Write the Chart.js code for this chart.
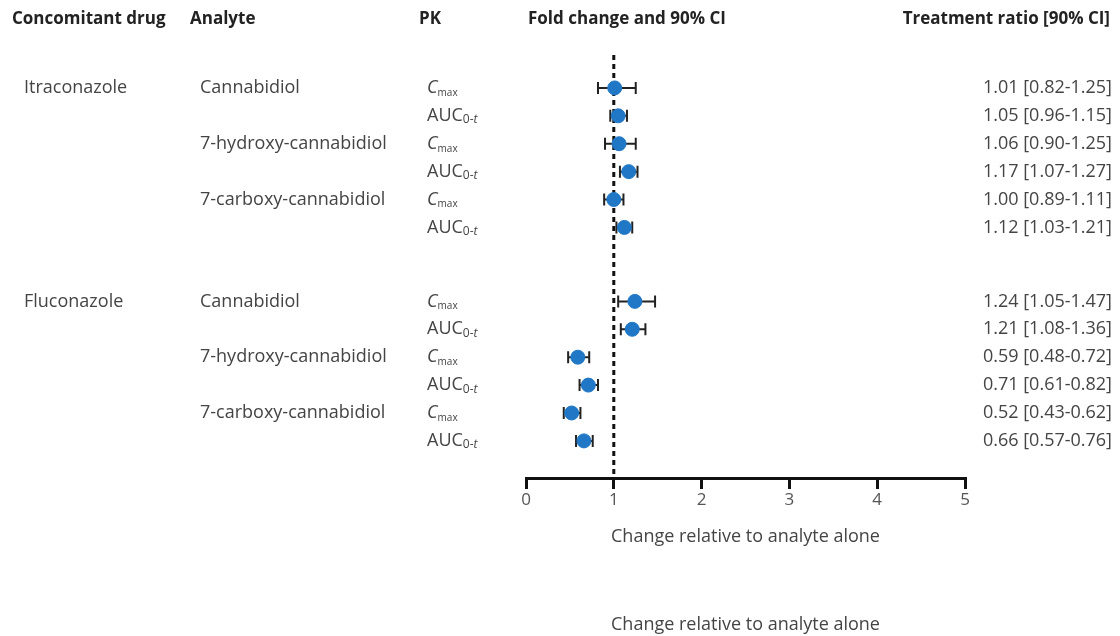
<!DOCTYPE html>
<html>
<head>
<meta charset="utf-8">
<script src="https://cdn.jsdelivr.net/npm/chart.js@4"></script>
<style>html,body{margin:0;background:#fff}</style>
</head>
<body>
<canvas id="forest_chart" width="1120" height="636"></canvas>
<script>
// Datos
const drugs = ['Itraconazole', 'Fluconazole'];
const drugRows = [0, 7.65];
const analytes = ['Cannabidiol', '7-hydroxy-cannabidiol', '7-carboxy-cannabidiol',
                  'Cannabidiol', '7-hydroxy-cannabidiol', '7-carboxy-cannabidiol'];
const analyteRows = [0, 2, 4, 7.65, 9.65, 11.65];
const pkParams = ['Cmax', 'AUC', 'Cmax', 'AUC', 'Cmax', 'AUC',
                  'Cmax', 'AUC', 'Cmax', 'AUC', 'Cmax', 'AUC'];
const rowPos = [0, 1, 2, 3, 4, 5, 7.65, 8.65, 9.65, 10.65, 11.65, 12.65];
const ratio = [1.01, 1.05, 1.06, 1.17, 1.00, 1.12, 1.24, 1.21, 0.59, 0.71, 0.52, 0.66];
const ciLow = [0.82, 0.96, 0.90, 1.07, 0.89, 1.03, 1.05, 1.08, 0.48, 0.61, 0.43, 0.57];
const ciHigh = [1.25, 1.15, 1.25, 1.27, 1.11, 1.21, 1.47, 1.36, 0.72, 0.82, 0.62, 0.76];
const xTicks = [0, 1, 2, 3, 4, 5];

const FONT = '"Open Sans", Lato, sans-serif';
const TEXT = '#444';

// Barras de error y línea de referencia
const forestPlugin = {
    id: 'forest',
    beforeDatasetsDraw(chart) {
        const {ctx, chartArea, scales: {x, y}} = chart;
        ctx.save();
        // línea discontinua en 1
        ctx.strokeStyle = '#111';
        ctx.lineWidth = 3;
        ctx.setLineDash([5, 4]);
        ctx.beginPath();
        ctx.moveTo(x.getPixelForValue(1), chartArea.top);
        ctx.lineTo(x.getPixelForValue(1), chartArea.bottom);
        ctx.stroke();
        ctx.setLineDash([]);
        // IC 90%
        ctx.strokeStyle = '#222';
        ctx.lineWidth = 2;
        rowPos.forEach((r, i) => {
            const py = y.getPixelForValue(r);
            const x0 = x.getPixelForValue(ciLow[i]);
            const x1 = x.getPixelForValue(ciHigh[i]);
            ctx.beginPath();
            ctx.moveTo(x0, py); ctx.lineTo(x1, py);
            ctx.moveTo(x0, py - 6); ctx.lineTo(x0, py + 6);
            ctx.moveTo(x1, py - 6); ctx.lineTo(x1, py + 6);
            ctx.stroke();
        });
        ctx.restore();
    },
    afterDraw(chart) {
        const {ctx, chartArea, scales: {y}} = chart;
        ctx.save();
        ctx.textBaseline = 'middle';
        // cabeceras
        ctx.fillStyle = '#222';
        ctx.font = 'bold 17px ' + FONT;
        ctx.textAlign = 'left';
        ctx.fillText('Concomitant drug', 12, 19);
        ctx.fillText('Analyte', 190, 19);
        ctx.fillText('PK', 419, 19);
        ctx.fillText('Fold change and 90% CI', 528, 19);
        ctx.textAlign = 'right';
        ctx.fillText('Treatment ratio [90% CI]', 1110, 19);

        ctx.fillStyle = TEXT;
        ctx.font = '18px ' + FONT;
        ctx.textAlign = 'left';
        drugs.forEach((d, i) => ctx.fillText(d, 24, y.getPixelForValue(drugRows[i])));
        analytes.forEach((a, i) => ctx.fillText(a, 200, y.getPixelForValue(analyteRows[i])));

        rowPos.forEach((r, i) => {
            const py = y.getPixelForValue(r);
            ctx.textAlign = 'left';
            if (pkParams[i] === 'Cmax') {
                ctx.font = 'italic 18px ' + FONT;
                ctx.fillText('C', 427, py);
                const w = ctx.measureText('C').width;
                ctx.font = '10px ' + FONT;
                ctx.fillText('max', 427 + w, py + 5);
            } else {
                ctx.font = '18px ' + FONT;
                ctx.fillText('AUC', 427, py);
                let w = ctx.measureText('AUC').width;
                ctx.font = '12px ' + FONT;
                ctx.fillText('0-', 427 + w, py + 4);
                w += ctx.measureText('0-').width;
                ctx.font = 'italic 12px ' + FONT;
                ctx.fillText('t', 427 + w, py + 4);
            }
            ctx.font = '18px ' + FONT;
            ctx.textAlign = 'right';
            ctx.fillText(ratio[i].toFixed(2) + ' [' + ciLow[i].toFixed(2) + '-' + ciHigh[i].toFixed(2) + ']',
                1112, py);
        });

        ctx.textAlign = 'center';
        ctx.fillText('Change relative to analyte alone', (chartArea.left + chartArea.right) / 2, 625);
        ctx.restore();
    }
};

const ctxForest = document.getElementById('forest_chart').getContext('2d');
const forestChart = new Chart(ctxForest, {
    type: 'scatter',
    data: {
        datasets: [{
            label: 'Treatment ratio',
            data: ratio.map((v, i) => ({x: v, y: rowPos[i]})),
            backgroundColor: '#1f77c6',
            borderColor: '#1f77c6',
            pointRadius: 7
        }]
    },
    options: {
        responsive: false,
        animation: false,
        layout: {padding: {left: 526, right: 155, top: 55, bottom: 0}},
        plugins: {legend: {display: false}, tooltip: {enabled: false}},
        scales: {
            x: {
                type: 'linear',
                min: 0,
                max: 5,
                afterBuildTicks: (s) => { s.ticks = xTicks.map(v => ({value: v})); },
                afterFit: (s) => { s.height = 158; },
                ticks: {color: '#555', font: {family: FONT, size: 17}, padding: 1},
                grid: {drawOnChartArea: false, drawTicks: true, tickLength: 11, color: '#111', lineWidth: 3},
                border: {color: '#111', width: 3},
                title: {
                    display: true,
                    text: 'Change relative to analyte alone',
                    color: TEXT,
                    font: {family: FONT, size: 18},
                    padding: {top: 0, bottom: 88}
                }
            },
            y: {
                display: false,
                reverse: true,
                min: -1.18,
                max: 13.98
            }
        }
    },
    plugins: [forestPlugin]
});
</script>
</body>
</html>
